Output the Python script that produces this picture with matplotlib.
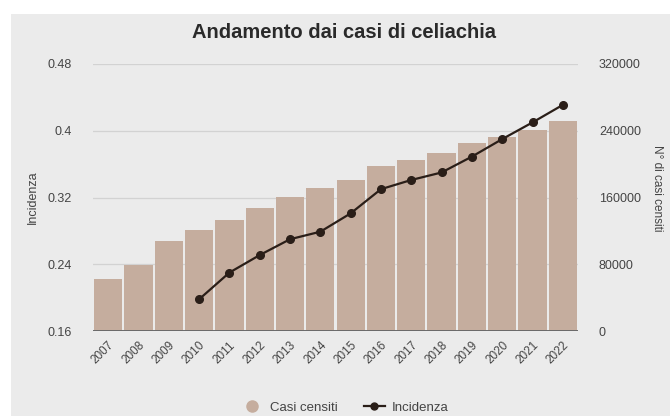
import matplotlib.pyplot as plt
from matplotlib.lines import Line2D
from matplotlib.patches import Rectangle

plt.rcParams['font.family'] = ['Liberation Sans', 'DejaVu Sans']

# dati
anni = ['2007', '2008', '2009', '2010', '2011', '2012', '2013', '2014',
        '2015', '2016', '2017', '2018', '2019', '2020', '2021', '2022']
casi_censiti = [62500, 79500, 108000, 120500, 133500, 147000, 161000, 171000,
                180500, 197500, 204500, 213000, 225000, 232000, 240500, 251500]
anni_incidenza = ['2010', '2011', '2012', '2013', '2014', '2015', '2016',
                  '2017', '2018', '2019', '2020', '2021', '2022']
incidenza = [0.198, 0.230, 0.251, 0.270, 0.279, 0.301, 0.330, 0.341,
             0.350, 0.369, 0.390, 0.410, 0.431]

sx_ticks = [0.16, 0.24, 0.32, 0.4, 0.48]
dx_ticks = [0, 80000, 160000, 240000, 320000]

col_barre = '#c5ad9e'
col_linea = '#2a1e18'
col_testo = '#444444'

fig = plt.figure(figsize=(6.7, 4.16), dpi=100, facecolor='white')
fig.patches.append(Rectangle((11 / 670, 0), 1, 1 - 14 / 416, transform=fig.transFigure,
                             facecolor='#ebebeb', edgecolor='none', zorder=-10))

ax = fig.add_axes([93 / 670, 1 - 331 / 416, 485 / 670, 267 / 416])
ax2 = ax.twinx()
ax.set_zorder(ax2.get_zorder() + 1)
ax.patch.set_visible(False)
ax2.patch.set_visible(False)

x = range(len(anni))
ax2.bar(x, casi_censiti, width=0.93, color=col_barre, edgecolor='none', zorder=2)
for t in dx_ticks[1:]:
    ax2.axhline(t, color='#d2d2d2', lw=0.9, zorder=1)
ax2.axhline(0, color='#6a6a6a', lw=1.4, zorder=3)

xi = [anni.index(a) for a in anni_incidenza]
ax.plot(xi, incidenza, color=col_linea, lw=1.6, marker='o', markersize=5.5,
        markerfacecolor=col_linea, markeredgecolor=col_linea, zorder=4)

ax.set_xlim(-0.5, len(anni) - 0.5)
ax.set_ylim(0.16, 0.48)
ax2.set_ylim(0, 320000)
ax.set_yticks(sx_ticks)
ax.set_yticklabels(['0.16', '0.24', '0.32', '0.4', '0.48'])
ax2.set_yticks(dx_ticks)
ax2.set_yticklabels([str(t) for t in dx_ticks])
ax.set_xticks(list(x))
ax.set_xticklabels(anni, rotation=45, ha='right', rotation_mode='anchor')

for a in (ax, ax2):
    for s in a.spines.values():
        s.set_visible(False)
    a.tick_params(length=0, labelsize=9, colors=col_testo)
ax.tick_params(axis='y', pad=15)
ax2.tick_params(axis='y', pad=15)
ax.tick_params(axis='x', pad=6, labelsize=8.5)

# titoli degli assi
fig.text(33 / 670, 1 - 197 / 416, 'Incidenza', rotation=90, ha='center', va='center',
         fontsize=9, color=col_testo)
fig.text(657 / 670, 1 - 188 / 416, 'N° di casi censiti', rotation=-90, ha='center',
         va='center', fontsize=8.5, color=col_testo)

fig.text(0.513, 0.921, 'Andamento dai casi di celiachia', ha='center', va='center',
         fontsize=14.5, fontweight='bold', color='#2a2a2a')

handles = [
    Line2D([], [], marker='o', color='none', markerfacecolor=col_barre,
           markeredgecolor=col_barre, markersize=8, label='Casi censiti'),
    Line2D([], [], color=col_linea, lw=1.6, marker='o', markersize=5, label='Incidenza'),
]
fig.legend(handles=handles, loc='center', bbox_to_anchor=(0.515, 0.02), ncol=2,
           frameon=False, fontsize=9.5, handlelength=1.6, handletextpad=0.5,
           columnspacing=2.0, labelcolor=col_testo)

fig.savefig('out.png', dpi=100, facecolor=fig.get_facecolor())
